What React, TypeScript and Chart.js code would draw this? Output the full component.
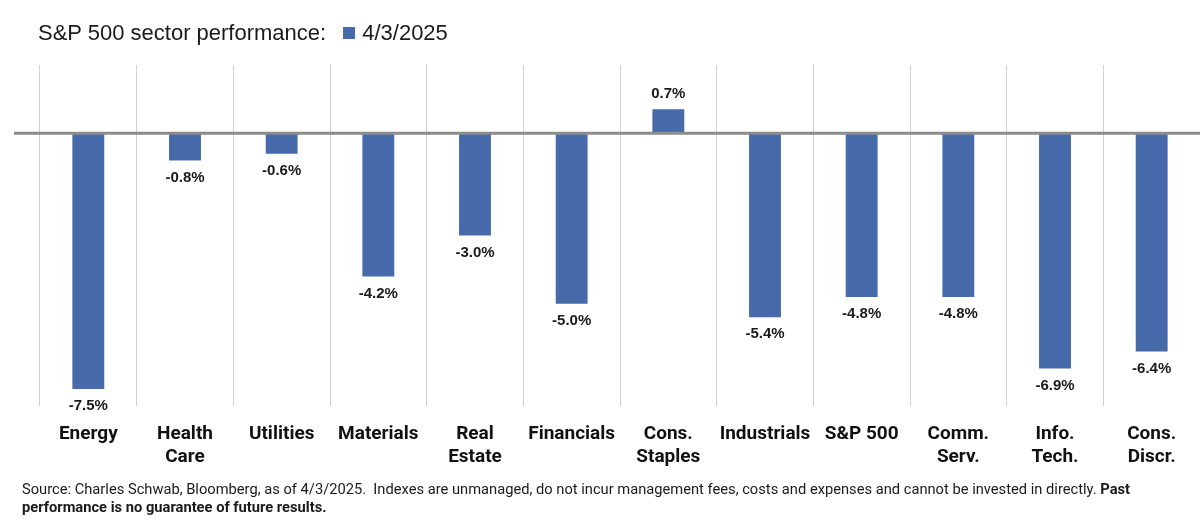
import React, { useEffect, useRef } from "react";
import { Chart, registerables } from "chart.js";

Chart.register(...registerables);

const categories: (string | string[])[] = [
  "Energy",
  ["Health", "Care"],
  "Utilities",
  "Materials",
  ["Real", "Estate"],
  "Financials",
  ["Cons.", "Staples"],
  "Industrials",
  "S&P 500",
  ["Comm.", "Serv."],
  ["Info.", "Tech."],
  ["Cons.", "Discr."],
];
const seriesLabel = "4/3/2025";
const values = [-7.5, -0.8, -0.6, -4.2, -3.0, -5.0, 0.7, -5.4, -4.8, -4.8, -6.9, -6.4];
const yMin = -8;
const yMax = 2;

const BAR_COLOR = "#466aaa";

const zeroLinePlugin = {
  id: "zeroLine",
  afterDatasetsDraw(chart: any) {
    const { ctx, chartArea, scales } = chart;
    const y = scales.y.getPixelForValue(0);
    ctx.save();
    ctx.strokeStyle = "#8c8c8c";
    ctx.lineWidth = 3;
    ctx.beginPath();
    ctx.moveTo(14, y);
    ctx.lineTo(chartArea.right, y);
    ctx.stroke();
    ctx.restore();
  },
};

const valueLabelPlugin = {
  id: "valueLabels",
  afterDatasetsDraw(chart: any) {
    const { ctx } = chart;
    const meta = chart.getDatasetMeta(0);
    ctx.save();
    ctx.font = "bold 15px 'Liberation Sans', Arial, sans-serif";
    ctx.fillStyle = "#1a1a1a";
    ctx.textAlign = "center";
    ctx.textBaseline = "middle";
    meta.data.forEach((bar: any, i: number) => {
      const v = values[i];
      const txt = v.toFixed(1) + "%";
      const y = v >= 0 ? bar.y - 15 : bar.y + 17;
      ctx.fillText(txt, bar.x, y);
    });
    ctx.restore();
  },
};

export default function App() {
  const canvasRef = useRef<HTMLCanvasElement | null>(null);

  useEffect(() => {
    if (!canvasRef.current) return;
    const chart = new Chart(canvasRef.current, {
      type: "bar",
      data: {
        labels: categories as any,
        datasets: [
          {
            label: seriesLabel,
            data: values,
            backgroundColor: BAR_COLOR,
            borderWidth: 0,
            barPercentage: 0.66,
            categoryPercentage: 0.5,
          },
        ],
      },
      options: {
        animation: false,
        responsive: false,
        maintainAspectRatio: false,
        layout: { padding: { left: 40, right: 0, top: 65, bottom: 38 } },
        plugins: {
          legend: { display: false },
          title: { display: false },
          tooltip: { enabled: false },
        },
        scales: {
          x: {
            grid: {
              display: true,
              offset: true,
              color: "#d0d0d0",
              lineWidth: 1,
              drawTicks: false,
            },
            border: { display: false },
            ticks: {
              color: "#111",
              padding: 17,
              maxRotation: 0,
              autoSkip: false,
              font: { family: "Roboto, 'Liberation Sans', sans-serif", size: 19, weight: "bold", lineHeight: 1.21 },
            },
          },
          y: {
            display: false,
            min: yMin,
            max: yMax,
          },
        },
      },
      plugins: [zeroLinePlugin, valueLabelPlugin],
    });
    return () => chart.destroy();
  }, []);

  return (
    <div style={{ position: "fixed", left: 0, top: 0, width: 1200, height: 524, background: "#fff", overflow: "hidden" }}>
      <canvas ref={canvasRef} width={1200} height={524} style={{ position: "absolute", left: 0, top: 0, width: 1200, height: 524 }} />
      <div
        style={{
          position: "absolute",
          left: 38,
          top: 20,
          fontFamily: "'Liberation Sans', Arial, sans-serif",
          fontSize: 22,
          color: "#1a1a1a",
          whiteSpace: "nowrap",
          display: "flex",
          alignItems: "center",
          lineHeight: "26px",
        }}
      >
        <span>S&amp;P 500 sector performance:</span>
        <span style={{ display: "inline-block", width: 12, height: 12, background: BAR_COLOR, marginLeft: 17, marginRight: 7 }} />
        <span>{seriesLabel}</span>
      </div>
      <div
        style={{
          position: "absolute",
          left: 22,
          top: 480,
          fontFamily: "Roboto, 'Liberation Sans', sans-serif",
          fontSize: 14.7,
          color: "#1a1a1a",
          lineHeight: "18px",
          whiteSpace: "nowrap",
        }}
      >
        Source: Charles Schwab, Bloomberg, as of 4/3/2025.&nbsp; Indexes are unmanaged, do not incur management fees, costs and expenses and cannot be invested in directly. <b>Past</b>
        <br />
        <b>performance is no guarantee of future results.</b>
      </div>
    </div>
  );
}
